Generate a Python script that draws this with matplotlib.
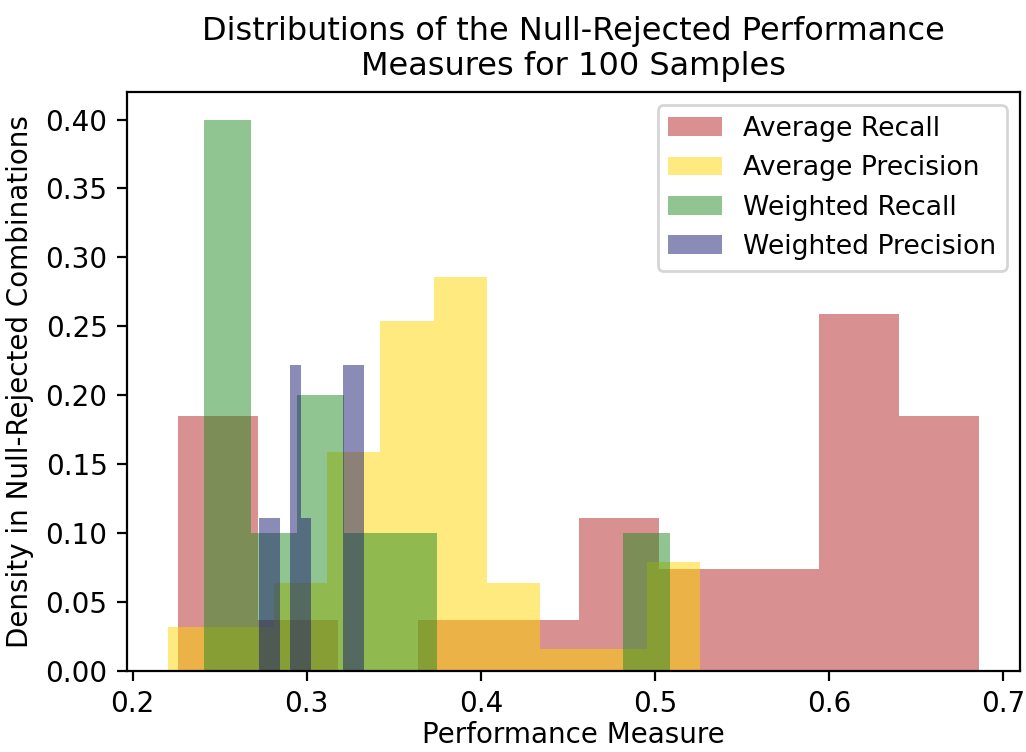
import numpy as np
import matplotlib
matplotlib.use("Agg")
import matplotlib.pyplot as plt

# Histogram counts of null-rejected combinations per bin (10 equal bins per measure)
avg_recall_counts = [5, 1, 0, 1, 1, 3, 2, 2, 7, 5]
avg_recall_range = (0.2260, 0.6863)

avg_precision_counts = [2, 2, 4, 10, 16, 18, 4, 1, 1, 5]
avg_precision_range = (0.2201, 0.5257)

weighted_recall_counts = [4, 1, 2, 1, 1, 0, 0, 0, 0, 1]
weighted_recall_range = (0.2410, 0.5086)

weighted_precision_counts = [3, 3, 0, 6, 3, 0, 0, 0, 6, 6]
weighted_precision_range = (0.2724, 0.3329)

labels = ["Average Recall", "Average Precision", "Weighted Recall", "Weighted Precision"]
colors = ["firebrick", "gold", "forestgreen", "midnightblue"]

series = [
    (avg_recall_counts, avg_recall_range),
    (avg_precision_counts, avg_precision_range),
    (weighted_recall_counts, weighted_recall_range),
    (weighted_precision_counts, weighted_precision_range),
]

fig = plt.figure(figsize=(5.13, 3.76), dpi=200)
ax = fig.add_subplot(111)
fig.subplots_adjust(left=0.1238, right=0.9942, bottom=0.1077, top=0.8777)

for (counts, (lo, hi)), label, color in zip(series, labels, colors):
    counts = np.asarray(counts, dtype=float)
    edges = np.linspace(lo, hi, len(counts) + 1)
    ax.hist(edges[:-1], bins=edges, weights=counts / counts.sum(),
            alpha=0.5, color=color, label=label)

ax.set_title("Distributions of the Null-Rejected Performance\nMeasures for 100 Samples",
             fontsize=11.5)
ax.set_xlabel("Performance Measure", labelpad=1)
ax.set_ylabel("Density in Null-Rejected Combinations")
ax.legend(loc="upper right", fontsize=9.6)

fig.savefig("out.png", dpi=200)
